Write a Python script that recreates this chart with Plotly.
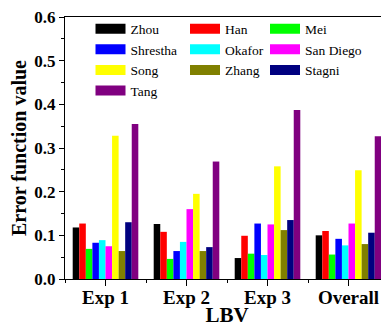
import plotly.graph_objects as go

categories = ["Exp 1", "Exp 2", "Exp 3", "Overall"]
series_names = ["Zhou", "Han", "Mei", "Shrestha", "Okafor", "San Diego",
                "Song", "Zhang", "Stagni", "Tang"]
colors = ["#000000", "#FF0000", "#00FF00", "#0000FF", "#00FFFF", "#FF00FF",
          "#FFFF00", "#808000", "#000080", "#800080"]

zhou = [0.118, 0.126, 0.048, 0.100]
han = [0.127, 0.108, 0.099, 0.110]
mei = [0.069, 0.046, 0.058, 0.056]
shrestha = [0.083, 0.064, 0.127, 0.092]
okafor = [0.089, 0.085, 0.055, 0.077]
san_diego = [0.075, 0.160, 0.125, 0.127]
song = [0.328, 0.195, 0.258, 0.249]
zhang = [0.064, 0.064, 0.112, 0.080]
stagni = [0.130, 0.073, 0.135, 0.106]
tang = [0.355, 0.269, 0.387, 0.327]

values = [zhou, han, mei, shrestha, okafor, san_diego, song, zhang, stagni, tang]

# legend columns (which legend each series goes in)
legend_of = ["legend", "legend2", "legend3", "legend", "legend2", "legend3",
             "legend", "legend2", "legend3", "legend"]

x_pos = list(range(len(categories)))
FONT = "Liberation Serif"

fig = go.Figure()
for name, vals, col in zip(series_names, values, colors):
    fig.add_trace(go.Bar(x=x_pos, y=vals, name=name, marker_color=col,
                         marker_line_width=0, showlegend=False))
for name, col, lg in zip(series_names, colors, legend_of):
    # legend-only entry with a wide swatch (no drawn data)
    fig.add_trace(go.Scatter(x=[0], y=[None], mode="lines", name=name,
                             line=dict(color=col, width=10),
                             legend=lg, showlegend=True, hoverinfo="skip"))

# page has an 8px body margin, so the figure is 8px smaller than the window
W, H = 381, 319
L, T, B = 57, 9, 48
pw, ph = W - L, H - T - B
leg_common = dict(font=dict(family=FONT, size=13.5, color="black"),
                  bgcolor="rgba(0,0,0,0)", borderwidth=0,
                  xanchor="left", yanchor="top", orientation="v",
                  tracegroupgap=0, itemwidth=30)
top = (H - B - 5.5) / ph
fig.update_layout(
    width=W, height=H,
    margin=dict(l=L, r=0, t=T, b=B, autoexpand=False),
    paper_bgcolor="white", plot_bgcolor="white",
    barmode="group", bargap=0.19, bargroupgap=0,
    font=dict(family=FONT, color="black"),
    legend=dict(x=(82.5 - L) / pw, y=top, **leg_common),
    legend2=dict(x=(177 - L) / pw, y=top, **leg_common),
    legend3=dict(x=(257 - L) / pw, y=top, **leg_common),
    xaxis=dict(range=[-0.5, 3.5], tickmode="array", tickvals=x_pos,
               ticktext=categories, showline=True, linecolor="black",
               linewidth=1.2, mirror=True, ticks="outside", ticklen=6,
               tickwidth=1.2, tickcolor="black", showgrid=False, zeroline=False,
               tickfont=dict(family=FONT, size=19, weight="bold"),
               ticklabelstandoff=-5, ticklabeloverflow="allow",
               automargin=True,
               minor=dict(tick0=-0.5, dtick=1,
                          ticks="outside", ticklen=3, tickwidth=1.2,
                          tickcolor="black", showgrid=False),
               title=dict(text="LBV", font=dict(family=FONT, size=21, weight="bold"),
                          standoff=3)),
    yaxis=dict(range=[0, 0.6], dtick=0.1, tick0=0, tickformat=".1f",
               showline=True, linecolor="black", linewidth=1.2,
               ticks="outside", ticklen=5, tickwidth=1.2, tickcolor="black",
               showgrid=False, zeroline=False, ticklabeloverflow="allow",
               tickfont=dict(family=FONT, size=17, weight="bold"),
               minor=dict(dtick=0.05, tick0=0, ticks="outside", ticklen=3,
                          tickwidth=1.2, tickcolor="black", showgrid=False),
               title=dict(text="Error function value",
                          font=dict(family=FONT, size=20, weight="bold"))),
)

fig.write_html("out.html")
